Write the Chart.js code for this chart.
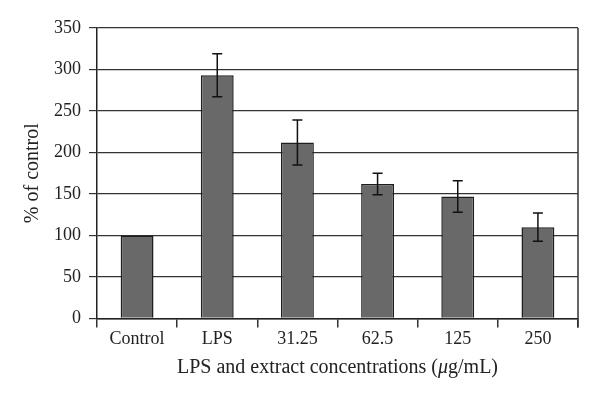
<!DOCTYPE html>
<html>
<head>
<meta charset="utf-8">
<script src="https://cdn.jsdelivr.net/npm/chart.js@4"></script>
<style>
html,body{margin:0;padding:0;background:#fff;}
#wrap{width:600px;height:400px;}
</style>
</head>
<body>
<div id="wrap"><canvas id="c" width="600" height="400"></canvas></div>
<script>
const categories = ["Control", "LPS", "31.25", "62.5", "125", "250"];
const values = [100, 293, 212, 162, 147, 110];
const errors = [0, 26, 27, 13, 19, 17];
const yTicks = [0, 50, 100, 150, 200, 250, 300, 350];
const xTitleParts = [
  { text: "LPS and extract concentrations (", italic: false },
  { text: "\u03bc", italic: true },
  { text: "g/mL)", italic: false }
];
const yTitle = "% of control";

const FONT = "'Liberation Serif', 'DejaVu Serif', serif";
const FS = 18;
const FT = 20;

const extrasPlugin = {
  id: 'extras',
  afterDatasetsDraw(chart) {
    const ctx = chart.ctx;
    const meta = chart.getDatasetMeta(0);
    const y = chart.scales.y;
    ctx.save();
    ctx.strokeStyle = '#111';
    ctx.lineWidth = 1.5;
    meta.data.forEach((bar, i) => {
      const e = errors[i];
      if (!e) return;
      const x = bar.x;
      const top = y.getPixelForValue(values[i] + e);
      const bot = y.getPixelForValue(values[i] - e);
      const cap = 5;
      ctx.beginPath();
      ctx.moveTo(x, top); ctx.lineTo(x, bot);
      ctx.moveTo(x - cap, top); ctx.lineTo(x + cap, top);
      ctx.moveTo(x - cap, bot); ctx.lineTo(x + cap, bot);
      ctx.stroke();
    });
    const a = chart.chartArea;
    ctx.strokeStyle = '#333';
    ctx.lineWidth = 1.5;
    ctx.beginPath();
    ctx.moveTo(a.right, a.top);
    ctx.lineTo(a.right, a.bottom + 9);
    ctx.stroke();
    ctx.restore();
  },
  afterDraw(chart) {
    const ctx = chart.ctx;
    const a = chart.chartArea;
    ctx.save();
    ctx.fillStyle = '#222';
    ctx.textBaseline = 'middle';
    ctx.textAlign = 'left';
    const fontFor = p => (p.italic ? 'italic ' : '') + FT + 'px ' + FONT;
    let total = 0;
    xTitleParts.forEach(p => { ctx.font = fontFor(p); total += ctx.measureText(p.text).width; });
    let x = (a.left + a.right) / 2 - total / 2;
    const yPos = a.bottom + 49;
    xTitleParts.forEach(p => {
      ctx.font = fontFor(p);
      ctx.fillText(p.text, x, yPos);
      x += ctx.measureText(p.text).width;
    });
    ctx.restore();
  }
};

new Chart(document.getElementById('c'), {
  type: 'bar',
  data: {
    labels: categories,
    datasets: [{
      data: values,
      backgroundColor: '#696969',
      borderColor: '#1e1e1e',
      borderWidth: 1.5,
      barPercentage: 0.82,
      categoryPercentage: 0.5
    }]
  },
  options: {
    responsive: false,
    animation: false,
    devicePixelRatio: 1,
    layout: { padding: { top: 28, right: 22, left: 21, bottom: 49 } },
    plugins: { legend: { display: false }, tooltip: { enabled: false } },
    scales: {
      x: {
        offset: true,
        grid: { offset: true, drawOnChartArea: false, drawTicks: true, tickLength: 9, color: '#333', lineWidth: 1.5 },
        border: { color: '#222', width: 1.5 },
        ticks: { color: '#222', font: { family: FONT, size: FS }, padding: 1 },
        title: { display: false }
      },
      y: {
        min: 0, max: 350,
        afterBuildTicks(scale) { scale.ticks = yTicks.map(v => ({ value: v })); },
        grid: { color: '#333', lineWidth: 1.2, tickLength: 8 },
        border: { color: '#222', width: 1.5 },
        ticks: { color: '#222', font: { family: FONT, size: FS }, padding: 8 },
        title: { display: true, text: yTitle, color: '#222', font: { family: FONT, size: FT }, padding: { top: 0, bottom: 1 } }
      }
    }
  },
  plugins: [extrasPlugin]
});
</script>
</body>
</html>
